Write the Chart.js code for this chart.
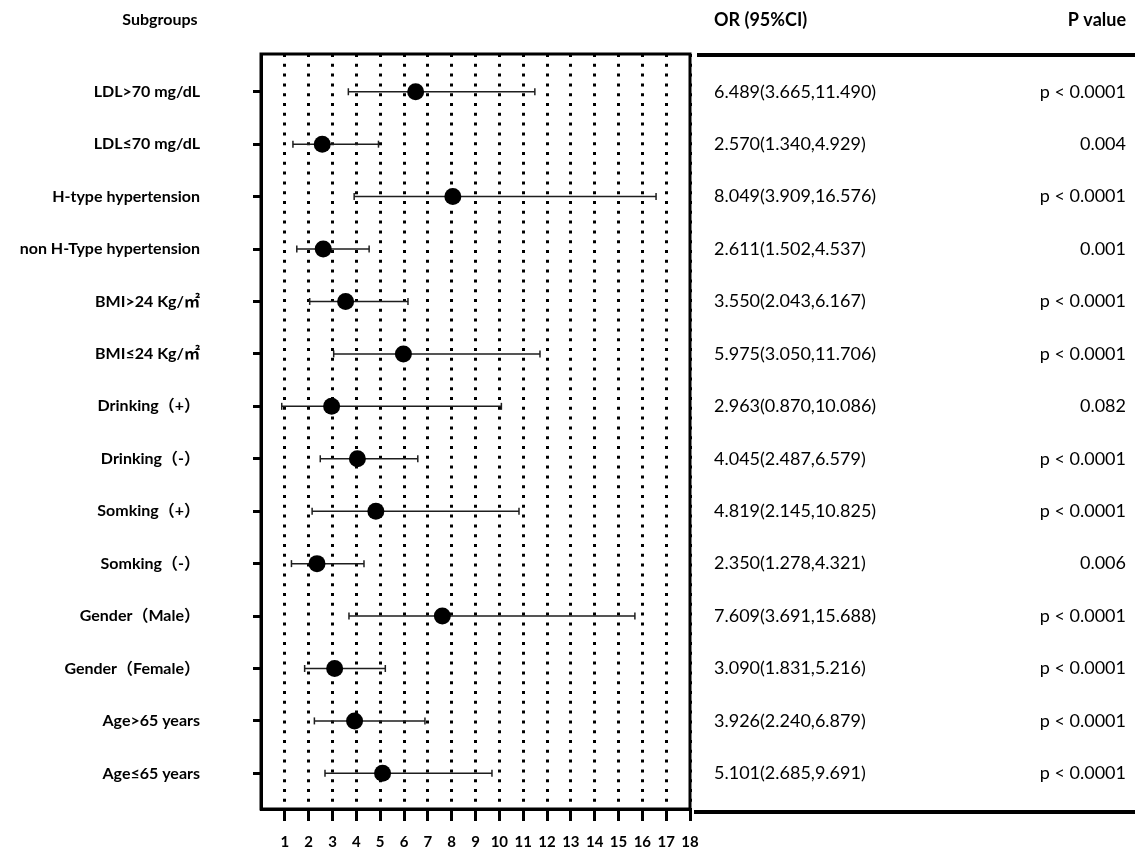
<!DOCTYPE html>
<html>
<head>
<meta charset="utf-8">
<script src="https://cdn.jsdelivr.net/npm/chart.js@4.4.1/dist/chart.umd.min.js"></script>
<style>
  html, body { margin: 0; padding: 0; background: #fff; }
  canvas { display: block; }
</style>
</head>
<body>
<canvas id="forest" width="1135" height="851"></canvas>
<script>
// Subgroup labels, top to bottom
const subgroups = [
  'LDL>70 mg/dL',
  'LDL≤70 mg/dL',
  'H-type hypertension',
  'non H-Type hypertension',
  'BMI>24 Kg/㎡',
  'BMI≤24 Kg/㎡',
  'Drinking（+）',
  'Drinking（-）',
  'Somking（+）',
  'Somking（-）',
  'Gender（Male）',
  'Gender（Female）',
  'Age>65 years',
  'Age≤65 years'
];

// Odds ratios with 95% confidence limits
const oddsRatios = [6.489, 2.570, 8.049, 2.611, 3.550, 5.975, 2.963, 4.045, 4.819, 2.350, 7.609, 3.090, 3.926, 5.101];
const ciLower    = [3.665, 1.340, 3.909, 1.502, 2.043, 3.050, 0.870, 2.487, 2.145, 1.278, 3.691, 1.831, 2.240, 2.685];
const ciUpper    = [11.490, 4.929, 16.576, 4.537, 6.167, 11.706, 10.086, 6.579, 10.825, 4.321, 15.688, 5.216, 6.879, 9.691];
const pValues    = ['p < 0.0001', '0.004', 'p < 0.0001', '0.001', 'p < 0.0001', 'p < 0.0001', '0.082',
                    'p < 0.0001', 'p < 0.0001', '0.006', 'p < 0.0001', 'p < 0.0001', 'p < 0.0001', 'p < 0.0001'];

// Bottom axis tick values
const xTickValues = [1, 2, 3, 4, 5, 6, 7, 8, 9, 10, 11, 12, 13, 14, 15, 16, 17, 18];

const FONT = 'Lato, "Noto Sans CJK SC", "DejaVu Sans", sans-serif';

// point estimates
const pointData = oddsRatios.map((v, i) => ({ x: v, y: i }));

// confidence interval segments, separated by empty points
const ciData = [];
subgroups.forEach((_, i) => {
  ciData.push({ x: ciLower[i], y: i });
  ciData.push({ x: ciUpper[i], y: i });
  ciData.push({ x: null, y: null });
});

// frame around the plot plus the table columns on the right
const tablePlugin = {
  id: 'forestTable',
  afterDraw(chart) {
    const { ctx, chartArea, scales } = chart;
    const yScale = scales.y;
    ctx.save();

    // plot frame
    ctx.strokeStyle = '#000';
    ctx.lineWidth = 3;
    ctx.strokeRect(chartArea.left, chartArea.top, chartArea.right - chartArea.left, chartArea.bottom - chartArea.top);

    // table rules
    ctx.lineWidth = 4;
    ctx.beginPath();
    ctx.moveTo(chartArea.right + 7, chartArea.top + 1);
    ctx.lineTo(chart.width, chartArea.top + 1);
    ctx.moveTo(chartArea.right + 4, chartArea.bottom + 3);
    ctx.lineTo(chart.width, chartArea.bottom + 3);
    ctx.stroke();

    ctx.fillStyle = '#000';
    ctx.textBaseline = 'middle';

    // headers
    ctx.font = 'bold 16px ' + FONT;
    ctx.textAlign = 'center';
    ctx.fillText('Subgroups', 160, 20);
    ctx.font = 'bold 18px ' + FONT;
    ctx.textAlign = 'left';
    ctx.fillText('OR (95%CI)', 714, 20);
    ctx.textAlign = 'right';
    ctx.fillText('P value', 1126, 20);

    // rows
    ctx.font = '18px ' + FONT;
    subgroups.forEach((_, i) => {
      const y = yScale.getPixelForValue(i);
      ctx.textAlign = 'left';
      ctx.fillText(oddsRatios[i].toFixed(3) + '(' + ciLower[i].toFixed(3) + ',' + ciUpper[i].toFixed(3) + ')', 714, y);
      ctx.textAlign = 'right';
      ctx.fillText(pValues[i], 1126, y);
    });
    ctx.restore();
  }
};

new Chart(document.getElementById('forest'), {
  type: 'scatter',
  data: {
    datasets: [
      {
        label: 'CI',
        data: ciData,
        showLine: true,
        spanGaps: false,
        borderColor: '#1e1e1e',
        borderWidth: 1.5,
        pointStyle: 'line',
        pointRotation: 90,
        pointRadius: 3.5,
        pointBorderWidth: 1.5,
        pointBorderColor: '#1e1e1e',
        order: 2
      },
      {
        label: 'OR',
        data: pointData,
        pointStyle: 'circle',
        pointRadius: 8.5,
        pointBackgroundColor: '#000',
        pointBorderColor: '#000',
        pointBorderWidth: 0,
        order: 1
      }
    ]
  },
  options: {
    responsive: false,
    animation: false,
    events: [],
    layout: { padding: { left: 0, right: 445, top: 54, bottom: 0 } },
    plugins: {
      legend: { display: false },
      tooltip: { enabled: false },
      title: { display: false }
    },
    scales: {
      x: {
        type: 'linear',
        position: 'bottom',
        min: 0,
        max: 18,
        afterBuildTicks: (s) => { s.ticks = xTickValues.map(v => ({ value: v })); },
        afterFit: (s) => { s.height = 42; s.paddingLeft = 0; s.paddingRight = 0; },
        grid: {
          display: true,
          drawOnChartArea: true,
          color: '#000',
          lineWidth: 3,
          drawTicks: true,
          tickLength: 12,
          tickWidth: 3,
          tickColor: '#000',
          tickBorderDash: []
        },
        border: { display: true, color: '#000', width: 3, dash: [3, 6.8] },
        ticks: {
          autoSkip: false,
          maxRotation: 0,
          padding: 12,
          color: '#000',
          font: { family: FONT, size: 15, weight: 'bold' }
        }
      },
      y: {
        type: 'linear',
        position: 'left',
        reverse: true,
        min: -0.72,
        max: 13.68,
        afterBuildTicks: (s) => { s.ticks = subgroups.map((_, i) => ({ value: i })); },
        afterFit: (s) => { s.width = 261; s.paddingTop = 0; s.paddingBottom = 0; },
        grid: {
          display: true,
          drawOnChartArea: false,
          drawTicks: true,
          tickLength: 8,
          tickWidth: 3,
          tickColor: '#000'
        },
        border: { display: true, color: '#000', width: 3 },
        ticks: {
          autoSkip: false,
          padding: 53,
          color: '#000',
          font: { family: FONT, size: 16, weight: 'bold' },
          callback: (v) => subgroups[Math.round(v)]
        }
      }
    }
  },
  plugins: [tablePlugin]
});
</script>
</body>
</html>
